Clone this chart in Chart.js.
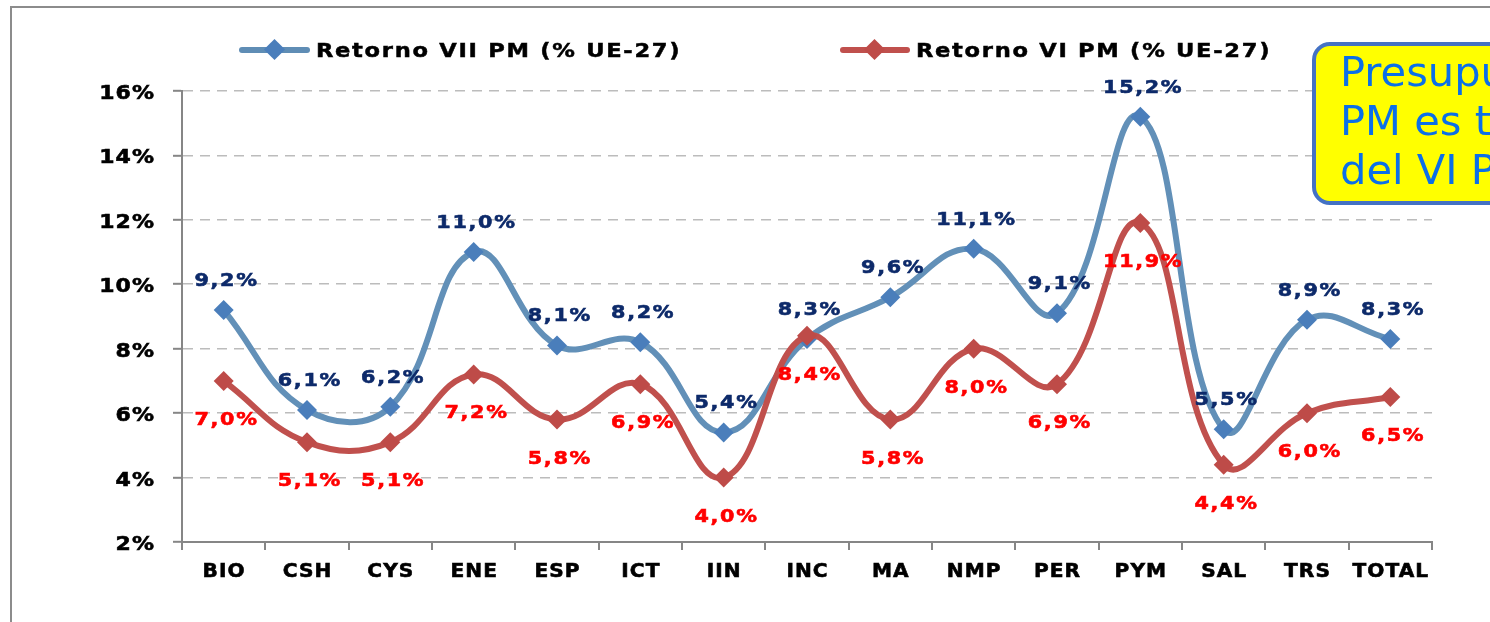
<!DOCTYPE html>
<html>
<head>
<meta charset="utf-8">
<script src="https://cdn.jsdelivr.net/npm/chart.js@4"></script>
<style>
  html, body { margin: 0; padding: 0; background: #fff; width: 1490px; height: 622px; overflow: hidden; }
  #frame { position: absolute; left: 10px; top: 6px; width: 2000px; height: 2000px; border: 2px solid #8c8c8c; }
  #chart { position: absolute; left: 0; top: 0; }
  .leg-line { position: absolute; height: 6px; border-radius: 3px; }
  .leg-mark { position: absolute; width: 15px; height: 15px; transform: rotate(45deg); }
  .leg-text { position: absolute; top: 40px; font: bold 20px "DejaVu Sans", sans-serif; line-height: 20px;
              letter-spacing: 1.5px; color: #000; white-space: nowrap; transform: scaleX(1.13); transform-origin: 0 0;
              -webkit-text-stroke: 0.5px #000; }
  #note { position: absolute; left: 1312px; top: 42px; width: 260px; height: 153px; background: #ffff00;
          border: 4px solid #4472c4; border-radius: 18px; padding: 2px 0 0 24px;
          font: 40px "DejaVu Sans", sans-serif; line-height: 49px; color: #0b6fe8; white-space: nowrap; overflow: hidden; }
  #note span { display: inline-block; transform: scaleX(1.04); transform-origin: 0 0; }
</style>
</head>
<body>
<div id="frame"></div>
<canvas id="chart" width="1490" height="622"></canvas>

<div class="leg-line" style="left:239px; top:47px; width:71px; background:#5f8db5;"></div>
<div class="leg-mark" style="left:267px; top:42px; background:#4a7ebb;"></div>
<div class="leg-text" style="left:316px;">Retorno VII PM (% UE-27)</div>

<div class="leg-line" style="left:840px; top:47px; width:70px; background:#c0504d;"></div>
<div class="leg-mark" style="left:867px; top:42px; background:#be4b48;"></div>
<div class="leg-text" style="left:916px;">Retorno VI PM (% UE-27)</div>

<div id="note"><span>Presupuesto<br>PM es tres veces<br>del VI PM</span></div>

<script>
// Retorno por programa temático - VII PM vs VI PM

const categories = ['BIO', 'CSH', 'CYS', 'ENE', 'ESP', 'ICT', 'IIN', 'INC', 'MA', 'NMP', 'PER', 'PYM', 'SAL', 'TRS', 'TOTAL'];
const retornoVII = [9.2, 6.1, 6.2, 11.0, 8.1, 8.2, 5.4, 8.3, 9.6, 11.1, 9.1, 15.2, 5.5, 8.9, 8.3];
const retornoVI = [7.0, 5.1, 5.1, 7.2, 5.8, 6.9, 4.0, 8.4, 5.8, 8.0, 6.9, 11.9, 4.4, 6.0, 6.5];
const yTicks = [2, 4, 6, 8, 10, 12, 14, 16];

const FAMILY = '"DejaVu Sans", sans-serif';

function fmt(v) {
    return v.toFixed(1).replace('.', ',') + '%';
}

// draw text stretched horizontally (the original font is wider and heavier than DejaVu)
function wideText(ctx, text, x, y, align, sx, spacing) {
    ctx.save();
    ctx.letterSpacing = spacing + 'px';
    ctx.textAlign = 'left';
    ctx.textBaseline = 'alphabetic';
    const w = (ctx.measureText(text).width - spacing) * sx;
    let x0 = x;
    if (align === 'center') x0 = x - w / 2;
    if (align === 'right') x0 = x - w;
    ctx.translate(x0, y);
    ctx.scale(sx, 1);
    ctx.strokeStyle = ctx.fillStyle;
    ctx.lineWidth = 0.6;
    ctx.fillText(text, 0, 0);
    ctx.strokeText(text, 0, 0);
    ctx.restore();
}

// axis labels drawn from the scales
const axisLabels = {
    id: 'axisLabels',
    afterDraw(chart) {
        const ctx = chart.ctx;
        const xs = chart.scales.x;
        const ys = chart.scales.y;
        ctx.save();
        ctx.fillStyle = '#000';
        ctx.font = 'bold 20px ' + FAMILY;
        yTicks.forEach(v => {
            wideText(ctx, v + '%', xs.left - 28, ys.getPixelForValue(v) + 8, 'right', 1.1, 1);
        });
        ctx.font = 'bold 19px ' + FAMILY;
        categories.forEach((c, i) => {
            wideText(ctx, c, xs.getPixelForValue(i), ys.bottom + 35, 'center', 1.06, 1);
        });
        ctx.restore();
    }
};

// value labels: VII above the point, VI below
const valueLabels = {
    id: 'valueLabels',
    afterDatasetsDraw(chart) {
        const ctx = chart.ctx;
        ctx.save();
        ctx.font = 'bold 18.5px ' + FAMILY;
        chart.data.datasets.forEach((ds, i) => {
            const meta = chart.getDatasetMeta(i);
            ctx.fillStyle = ds.labelColor;
            meta.data.forEach((pt, j) => {
                wideText(ctx, fmt(ds.data[j]), pt.x + 2, pt.y + ds.labelOffset, 'center', 1.12, 1.5);
            });
        });
        ctx.restore();
    }
};

new Chart(document.getElementById('chart'), {
    type: 'line',
    data: {
        labels: categories,
        datasets: [
            {
                label: 'Retorno VI PM (% UE-27)',
                data: retornoVI,
                borderColor: '#c0504d',
                backgroundColor: '#be4b48',
                borderWidth: 6,
                tension: 0.42,
                pointStyle: 'rectRot',
                pointRadius: 10,
                pointBorderWidth: 0,
                labelColor: '#ff0000',
                labelOffset: 44
            },
            {
                label: 'Retorno VII PM (% UE-27)',
                data: retornoVII,
                borderColor: '#6290b8',
                backgroundColor: '#4a7ebb',
                borderWidth: 6,
                tension: 0.42,
                pointStyle: 'rectRot',
                pointRadius: 10,
                pointBorderWidth: 0,
                labelColor: '#0d2a6a',
                labelOffset: -24
            }
        ]
    },
    options: {
        responsive: false,
        animation: false,
        devicePixelRatio: 1,
        layout: { padding: { top: 91, right: 58, left: 0, bottom: 0 } },
        plugins: {
            legend: { display: false },
            tooltip: { enabled: false }
        },
        scales: {
            x: {
                offset: true,
                afterFit: function(scale) { scale.height = 80; },
                grid: {
                    offset: true,
                    drawOnChartArea: false,
                    tickLength: 8,
                    color: '#868686',
                    lineWidth: 2
                },
                border: { display: true, color: '#868686', width: 2 },
                ticks: { display: false, autoSkip: false }
            },
            y: {
                min: 2,
                max: 16,
                afterFit: function(scale) { scale.width = 182; },
                afterBuildTicks: function(scale) {
                    scale.ticks = yTicks.map(v => ({ value: v }));
                },
                grid: {
                    color: '#bcbcbc',
                    lineWidth: 1.6,
                    tickLength: 9,
                    tickColor: '#868686',
                    tickWidth: 2,
                    tickBorderDash: []
                },
                border: { display: true, color: '#868686', width: 2, dash: [10, 7] },
                ticks: { display: false }
            }
        }
    },
    plugins: [valueLabels, axisLabels]
});
</script>
</body>
</html>
